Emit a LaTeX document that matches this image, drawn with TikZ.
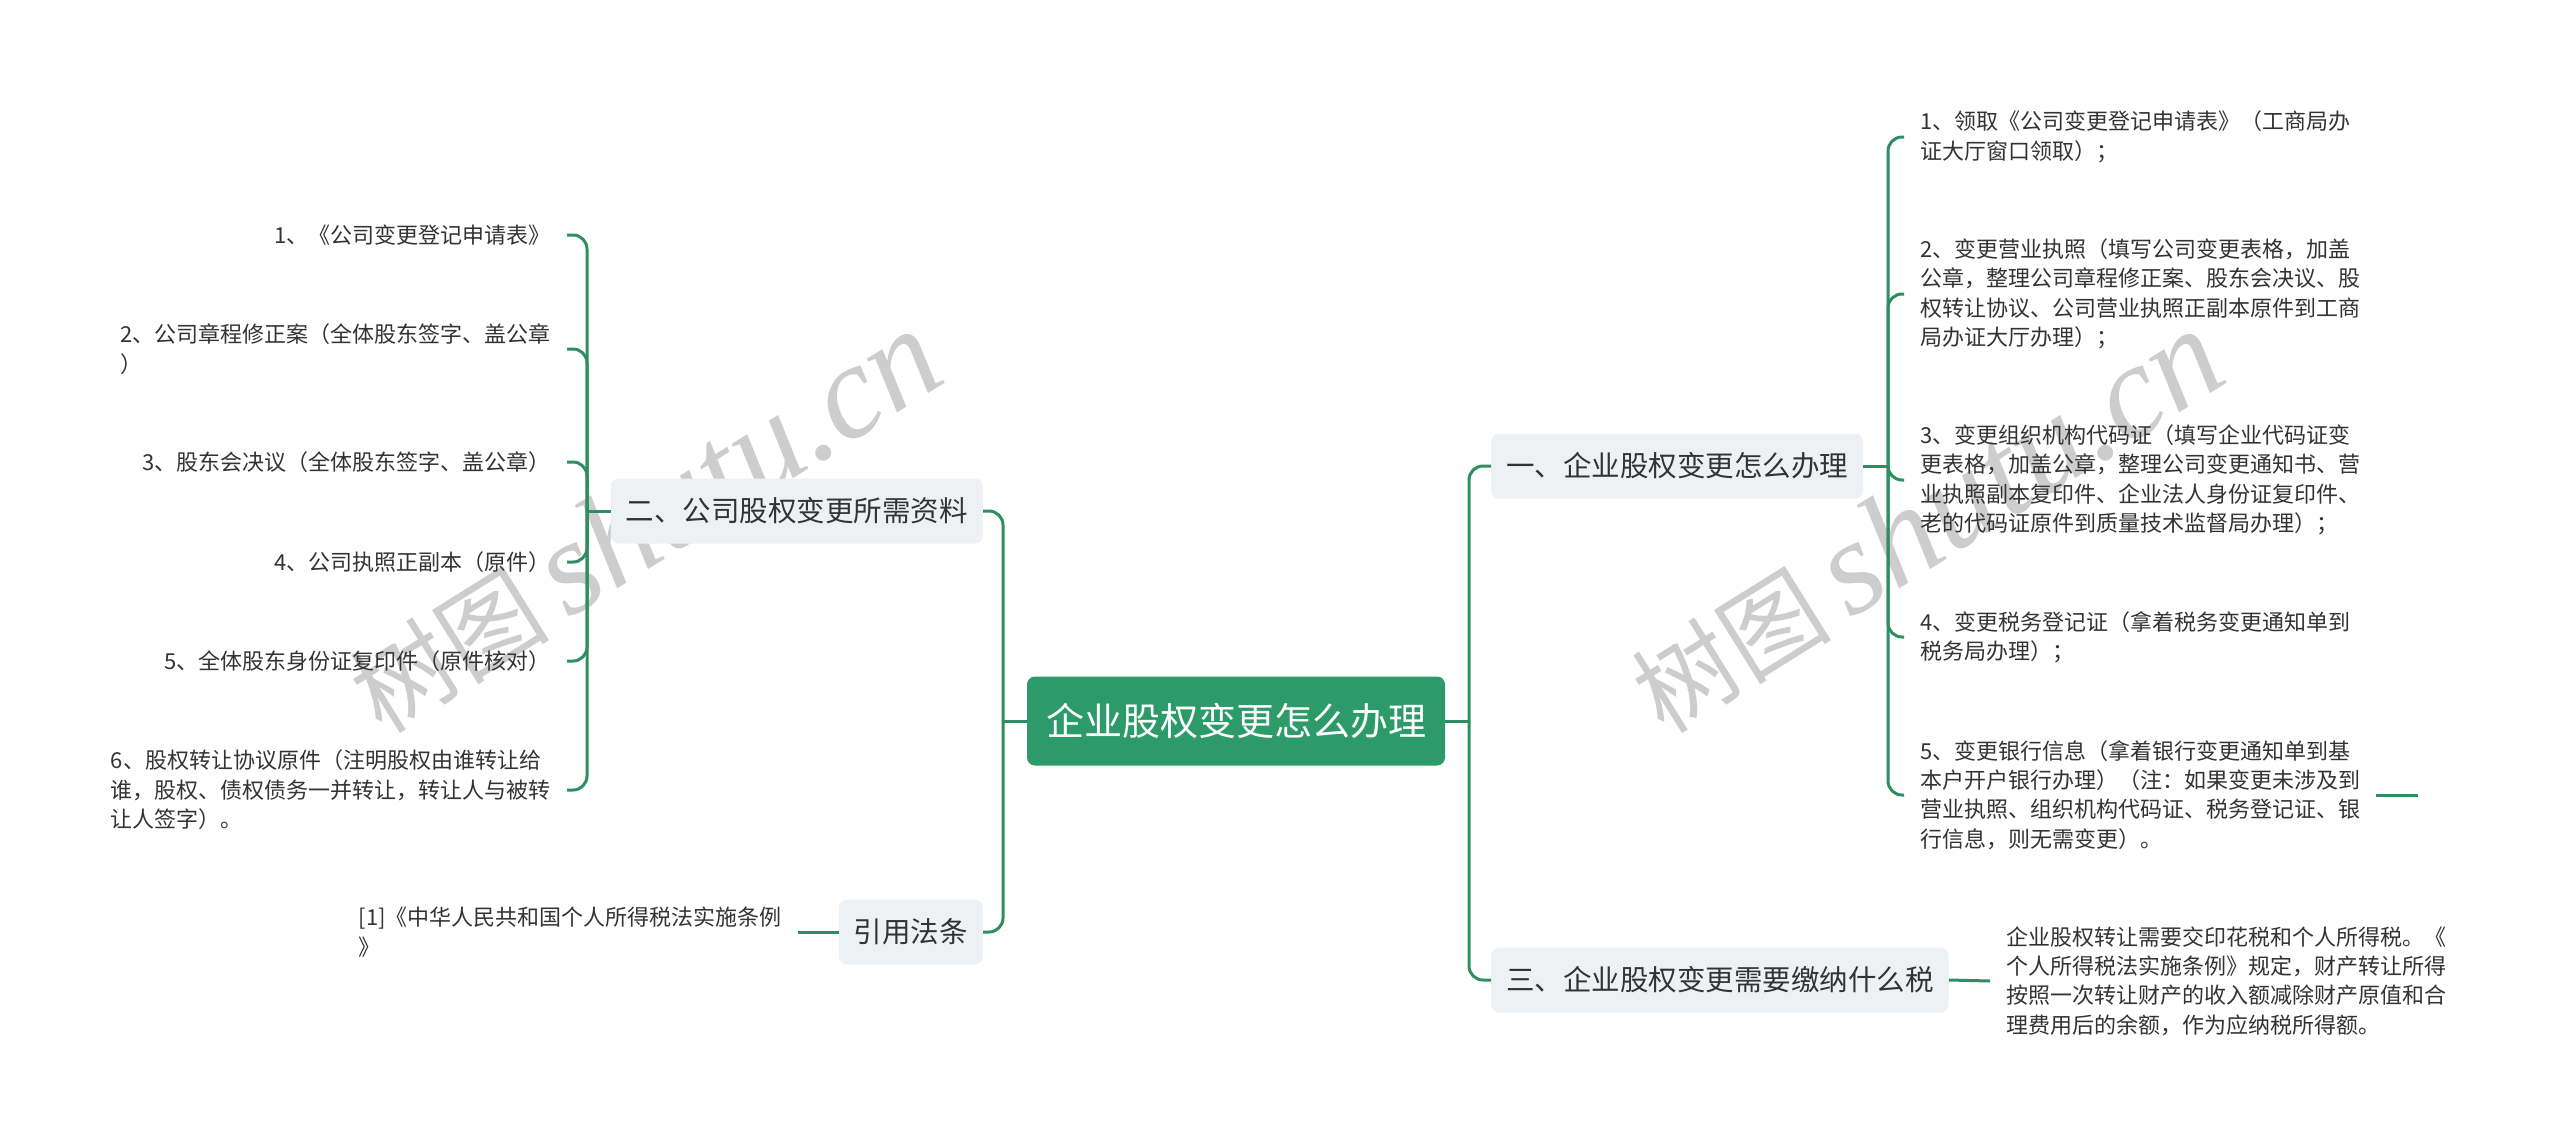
\documentclass[tikz,border=0pt]{standalone}
\usepackage{fontspec}
\setmainfont{Noto Sans CJK SC}
\newfontfamily\wmlat{Liberation Serif}
\usetikzlibrary{calc}
\definecolor{lineG}{HTML}{2E8E61}
\definecolor{rootG}{HTML}{2D9B69}
\definecolor{boxG}{HTML}{EEF1F4}
\definecolor{txt}{HTML}{333333}
\definecolor{wm}{HTML}{CDCDCD}
\begin{document}
\begin{tikzpicture}[x=1pt,y=-1pt,
  conn/.style={draw=lineG, line width=3pt, rounded corners=14pt},
  rootbox/.style={fill=rootG, rounded corners=8pt, text=white, font=\fontsize{38}{46}\selectfont, inner xsep=19pt, minimum height=89pt},
  lvbox/.style={fill=boxG, rounded corners=8pt, text=txt, font=\fontsize{28.5}{34}\selectfont, inner xsep=15pt, minimum height=65pt},
  leaf/.style={text=txt, font=\fontsize{22}{29.4}\selectfont, inner xsep=16pt, inner ysep=0pt, align=left},
  wmark/.style={text=wm, rotate=32, inner sep=0pt}
  ]
\useasboundingbox (0,0) rectangle (2560,1144);
\fill[white] (0,0) rectangle (2560,1144);

% watermarks
\node[wmark] (wm1) at (644,522) {\fontsize{100}{100}\selectfont 树图\hspace{0.2em}{\wmlat\itshape\fontsize{134}{134}\selectfont shutu.cn}};
\node[wmark] (wm2) at (1926,522) {\fontsize{100}{100}\selectfont 树图\hspace{0.2em}{\wmlat\itshape\fontsize{134}{134}\selectfont shutu.cn}};

% main nodes
\node[rootbox] (root) at (1236,721) {企业股权变更怎么办理};
\node[lvbox, anchor=east] (b2) at (983,511) {二、公司股权变更所需资料};
\node[lvbox, anchor=east] (bref) at (983,932) {引用法条};
\node[lvbox, anchor=west] (b1) at (1491,466) {一、企业股权变更怎么办理};
\node[lvbox, anchor=west] (b3) at (1491,980) {三、企业股权变更需要缴纳什么税};

% junctions
\coordinate (jL) at (1003,721);
\coordinate (jR) at (1469,721);
\coordinate (j2) at (587,511);
\coordinate (j1) at (1888,466);

% left leaves
\node[leaf, anchor=east] (l1) at (567,235) {1、《公司变更登记申请表》};
\node[leaf, anchor=east] (l2) at (567,349) {2、公司章程修正案（全体股东签字、盖公章\\）};
\node[leaf, anchor=east] (l3) at (567,462) {3、股东会决议（全体股东签字、盖公章）};
\node[leaf, anchor=east] (l4) at (567,562) {4、公司执照正副本（原件）};
\node[leaf, anchor=east] (l5) at (567,661) {5、全体股东身份证复印件（原件核对）};
\node[leaf, anchor=east] (l6) at (567,790) {6、股权转让协议原件（注明股权由谁转让给\\谁，股权、债权债务一并转让，转让人与被转\\让人签字）。};

% reference leaf
\node[leaf, anchor=east] (rl) at (798,932) {[1]《中华人民共和国个人所得税法实施条例\\》};

% right leaves
\node[leaf, anchor=west] (r1) at (1904,137) {1、领取《公司变更登记申请表》（工商局办\\证大厅窗口领取）；};
\node[leaf, anchor=west] (r2) at (1904,294) {2、变更营业执照（填写公司变更表格，加盖\\公章，整理公司章程修正案、股东会决议、股\\权转让协议、公司营业执照正副本原件到工商\\局办证大厅办理）；};
\node[leaf, anchor=west] (r3) at (1904,480) {3、变更组织机构代码证（填写企业代码证变\\更表格，加盖公章，整理公司变更通知书、营\\业执照副本复印件、企业法人身份证复印件、\\老的代码证原件到质量技术监督局办理）；};
\node[leaf, anchor=west] (r4) at (1904,637) {4、变更税务登记证（拿着税务变更通知单到\\税务局办理）；};
\node[leaf, anchor=west] (r5) at (1904,795) {5、变更银行信息（拿着银行变更通知单到基\\本户开户银行办理）（注：如果变更未涉及到\\营业执照、组织机构代码证、税务登记证、银\\行信息，则无需变更）。};
\coordinate (r5end) at (2418,795);

% tax leaf
\node[leaf, anchor=west] (t1) at (1990,981) {企业股权转让需要交印花税和个人所得税。《\\个人所得税法实施条例》规定，财产转让所得\\按照一次转让财产的收入额减除财产原值和合\\理费用后的余额，作为应纳税所得额。};

% connectors
\draw[conn] (root.west) -- (jL);
\draw[conn] (jL) |- (b2.east);
\draw[conn] (jL) |- (bref.east);
\draw[conn] (root.east) -- (jR);
\draw[conn] (jR) |- (b1.west);
\draw[conn] (jR) |- (b3.west);

\draw[conn] (b2.west) -- (j2);
\foreach \n in {l1,l2,l3,l4,l5,l6} \draw[conn] (j2) |- (\n.east);

\draw[conn] (bref.west) -- (rl.east);

\draw[conn] (b1.east) -- (j1);
\foreach \n in {r1,r2,r3,r4,r5} \draw[conn] (j1) |- (\n.west);
\draw[conn] (r5.east) -- (r5end);

\draw[conn] (b3.east) -- (t1.west);
\end{tikzpicture}
\end{document}
